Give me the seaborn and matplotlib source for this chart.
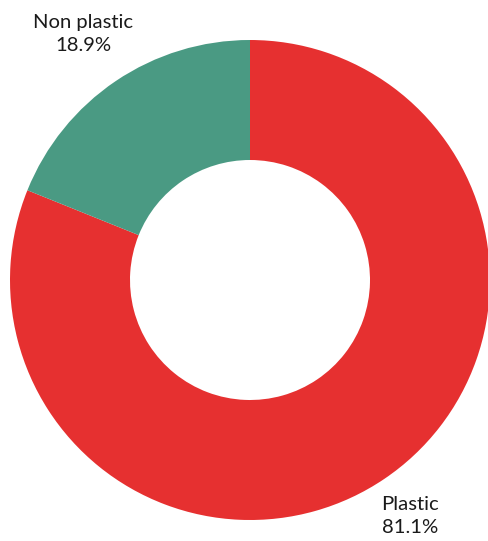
import matplotlib
matplotlib.use("Agg")
import matplotlib.pyplot as plt
import seaborn as sns

categories = ["Plastic", "Non plastic"]
shares = [81.1, 18.9]
colors = ["#E63030", "#4A9A83"]

sns.set_theme(style="white")
plt.rcParams["font.family"] = ["Lato", "DejaVu Sans"]

W, H = 488, 541
fig = plt.figure(figsize=(W / 100, H / 100), dpi=100)
ax = fig.add_axes([0, 0, 1, 1])

R = 240.0
cx, cy = 250.0, 280.0  # donut centre in pixels from top-left

ax.pie(shares, colors=colors, startangle=90, counterclock=False,
       radius=1.0, wedgeprops=dict(width=0.5, linewidth=0))

ax.set_xlim(-cx / R, (W - cx) / R)
ax.set_ylim(-(H - cy) / R, cy / R)
ax.set_aspect("equal")
ax.axis("off")

def px(x, y):
    return (x - cx) / R, (cy - y) / R

label_pos = {"Plastic": (410, 516), "Non plastic": (83, 34)}
for name, val in zip(categories, shares):
    x, y = px(*label_pos[name])
    ax.text(x, y, f"{name}\n{val}%", ha="center", va="center",
            fontsize=14.6, color="#1a1a1a", linespacing=1.42)

fig.savefig("out.png", dpi=100)
